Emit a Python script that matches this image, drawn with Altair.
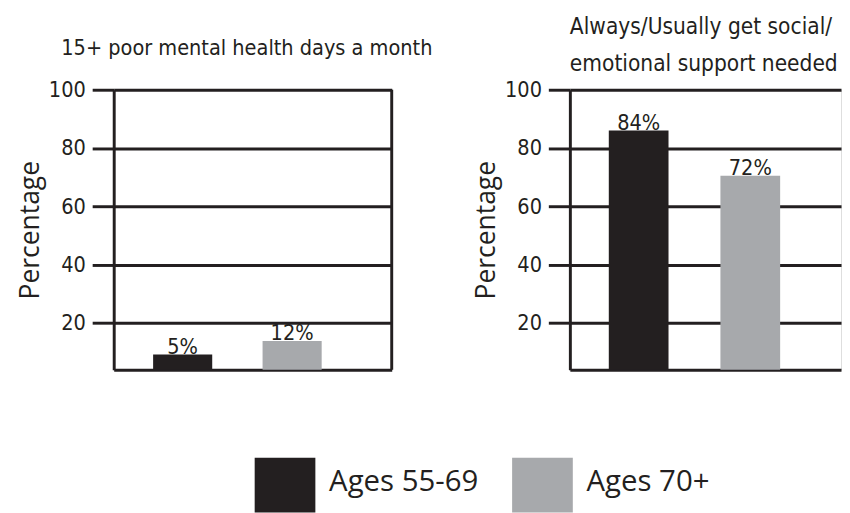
import altair as alt
import pandas as pd

groups = ["Ages 55-69", "Ages 70+"]
colors = ["#231f20", "#a7a9ac"]

mental_values = [9.2, 13.8]
mental_labels = ["5%", "12%"]
support_values = [86.0, 70.5]
support_labels = ["84%", "72%"]

y_ticks = [20, 40, 60, 80, 100]
y_domain = [4, 100]

title_left = "15+ poor mental health days a month"
title_right = ["Always/Usually get social/", "emotional support needed"]

INK = "#231f20"
NARROW = "Liberation Sans Narrow, DejaVu Sans Condensed, Roboto Condensed, sans-serif"
WIDE = "Open Sans"

mental_df = pd.DataFrame({"group": groups, "value": mental_values, "label": mental_labels})
support_df = pd.DataFrame({"group": groups, "value": support_values, "label": support_labels})

legend = alt.Legend(
    title=None, orient="none", legendX=155, legendY=381, direction="horizontal",
    symbolType="M-1.55,-1.25H1.55V1.55H-1.55Z", symbolSize=1600, symbolStrokeWidth=0,
    symbolOpacity=1, labelFont=WIDE, labelFontSize=30, labelColor=INK,
    labelOffset=25, columnPadding=34, padding=0, labelLimit=400,
)


def panel(df, title, width, xpad, right_border):
    y_axis = alt.Axis(
        values=y_ticks, grid=True, gridColor=INK, gridWidth=3, gridOpacity=1,
        domain=True, domainColor=INK, domainWidth=3,
        ticks=True, tickColor=INK, tickWidth=3, tickSize=22,
        labelFont=NARROW, labelFontSize=22, labelColor=INK, labelPadding=7,
        title="Percentage", titleFont=WIDE, titleFontSize=27, titleFontWeight="normal",
        titleColor=INK, titlePadding=4,
    )
    x_enc = alt.X(
        "group:N",
        scale=alt.Scale(domain=groups, paddingInner=xpad[0], paddingOuter=xpad[1], align=xpad[2]),
        axis=alt.Axis(labels=False, ticks=False, title=None, domain=True,
                      domainColor=INK, domainWidth=3, grid=False),
    )
    y_enc = alt.Y("value:Q", scale=alt.Scale(domain=y_domain, nice=False, zero=False), axis=y_axis)
    base = alt.Chart(df)
    bars = base.mark_bar().encode(
        x=x_enc, y=y_enc, y2=alt.datum(y_domain[0]),
        color=alt.Color("group:N", scale=alt.Scale(domain=groups, range=colors), legend=legend),
    )
    labels = base.mark_text(baseline="alphabetic", dy=-1, font=NARROW, fontSize=22, color=INK).encode(
        x=alt.X("group:N"), y=alt.Y("value:Q"), text="label:N"
    )
    layers = [bars, labels]
    if right_border:
        rule = alt.Chart(alt.Data(values=[{"a": 1}])).mark_rule(color=INK, strokeWidth=3).encode(
            x=alt.value(width), y=alt.value(0), y2=alt.value(286)
        )
        layers.append(rule)
    return alt.layer(*layers).properties(width=width, height=286, title=title)


left = panel(mental_df, alt.Title(title_left, font=NARROW, fontSize=22, fontWeight="normal",
                                 color=INK, anchor="middle", offset=19, dx=-6),
             284, (0.46, 0.5, 0.36), True)
right = panel(support_df, alt.Title(title_right, font=NARROW, fontSize=23, fontWeight="normal",
                                    color=INK, anchor="start", frame="group", offset=3, lineHeight=38),
              277, (0.465, 0.447, 0.39), False)

chart = alt.hconcat(left, right, spacing=182, bounds="flush").properties(
    padding={"left": 8, "top": 2, "right": 0, "bottom": 0}
).configure_view(stroke=None).configure(background="white")

chart.save("out.html", embed_options={"renderer": "svg", "actions": False})
